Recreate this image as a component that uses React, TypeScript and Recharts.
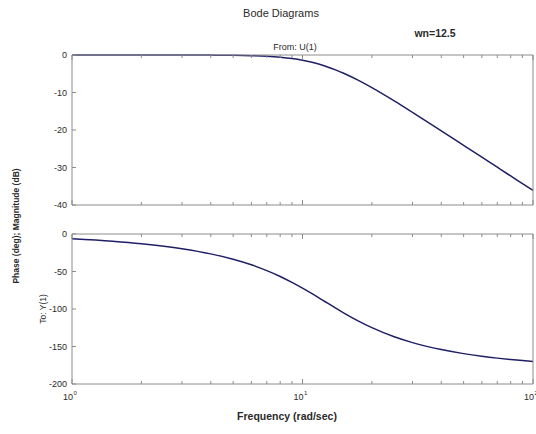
import React from 'react';
import { LineChart, Line, XAxis, YAxis } from 'recharts';

// ---- data (2nd-order system, wn = 12.5) ----
const freqs = [1, 1.5, 2, 3, 4, 5, 6, 7, 8, 9, 10, 11, 12.5, 14, 15, 17.5, 20, 25, 30, 40, 50, 60, 70, 80, 90, 100];
const magnitudeDb = [0, 0, 0, 0, -0.03, -0.08, -0.19, -0.36, -0.61, -0.96, -1.41, -1.96, -2.92, -4.02, -4.79, -6.78, -8.72, -12.26, -15.31, -20.23, -24.09, -27.25, -29.93, -32.25, -34.29, -36.12];
const phaseDeg = [-6.4, -9.7, -13.0, -19.6, -26.5, -33.7, -41.1, -48.8, -56.6, -64.5, -72.2, -79.6, -90, -99.2, -104.7, -116.1, -124.9, -137.0, -144.8, -154.1, -159.5, -163.0, -165.5, -167.4, -168.8, -169.9];

const xTicks = [1, 2, 3, 4, 5, 6, 7, 8, 9, 10, 20, 30, 40, 50, 60, 70, 80, 90, 100];
const xMajor = [1, 10, 100];
const xMajorExp = ['0', '1', '2'];
const magTicks = [0, -10, -20, -30, -40];
const phaseTicks = [0, -50, -100, -150, -200];

const magData = freqs.map((f, i) => ({ f, v: magnitudeDb[i] }));
const phaseData = freqs.map((f, i) => ({ f, v: phaseDeg[i] }));

const AXIS = '#8c8c8c';
const LINE = '#1f1f66';
const TXT = '#2a2a2a';
const FONT = '"Liberation Sans", Arial, sans-serif';

const W = 536;
const H = 434;

function makeXTick(dir: number, labels: boolean) {
  return (props: any) => {
    const { x, y, payload } = props;
    const v = payload.value;
    const mi = xMajor.indexOf(v);
    const len = mi >= 0 ? 5 : 3;
    return (
      <g>
        <line x1={x} x2={x} y1={y} y2={y + dir * len} stroke={AXIS} strokeWidth={1} />
        {labels && mi >= 0 && (
          <text x={x - 2} y={y + 16} textAnchor="middle" fontSize={9} fontFamily={FONT} fill={TXT}>
            10
            <tspan dx={0.5} dy={-5} fontSize={6}>{xMajorExp[mi]}</tspan>
          </text>
        )}
      </g>
    );
  };
}

function makeYTick(dir: number, labels: boolean) {
  return (props: any) => {
    const { x, y, payload } = props;
    return (
      <g>
        <line x1={x} x2={x + dir * 4} y1={y} y2={y} stroke={AXIS} strokeWidth={1} />
        {labels && (
          <text x={x - 5} y={y + 3} textAnchor="end" fontSize={9} fontFamily={FONT} fill={TXT}>
            {payload.value}
          </text>
        )}
      </g>
    );
  };
}

function Panel(props: { data: any[]; domain: [number, number]; ticks: number[]; top: number; bottom: number; xLabels: boolean }) {
  const { data, domain, ticks, top, bottom, xLabels } = props;
  return (
    <div style={{ position: 'absolute', left: 0, top: 0 }}>
      <LineChart width={W} height={H} data={data} margin={{ top: top - 1, bottom: H - bottom - 1, left: 71, right: W - 533 - 1 }}>
        <XAxis
          xAxisId="b"
          dataKey="f"
          type="number"
          scale="log"
          domain={[1, 100]}
          ticks={xTicks}
          interval={0}
          height={1}
          tickSize={0}
          tickMargin={0}
          tickLine={false}
          axisLine={{ stroke: AXIS }}
          tick={makeXTick(-1, xLabels)}
        />
        <XAxis
          xAxisId="t"
          orientation="top"
          dataKey="f"
          type="number"
          scale="log"
          domain={[1, 100]}
          ticks={xTicks}
          interval={0}
          height={1}
          tickSize={0}
          tickMargin={0}
          tickLine={false}
          axisLine={{ stroke: AXIS }}
          tick={makeXTick(1, false)}
        />
        <YAxis
          yAxisId="l"
          type="number"
          domain={domain}
          ticks={ticks}
          interval={0}
          width={1}
          tickSize={0}
          tickMargin={0}
          tickLine={false}
          axisLine={{ stroke: AXIS }}
          tick={makeYTick(1, true)}
        />
        <YAxis
          yAxisId="r"
          orientation="right"
          type="number"
          domain={domain}
          ticks={ticks}
          interval={0}
          width={1}
          tickSize={0}
          tickMargin={0}
          tickLine={false}
          axisLine={{ stroke: AXIS }}
          tick={makeYTick(-1, false)}
        />
        <Line
          xAxisId="b"
          yAxisId="l"
          dataKey="v"
          type="monotone"
          stroke={LINE}
          strokeWidth={1.5}
          dot={false}
          isAnimationActive={false}
        />
      </LineChart>
    </div>
  );
}

export default function App() {
  return (
    <div style={{ position: 'absolute', left: 0, top: 0, width: W, height: H, background: '#fff', overflow: 'hidden' }}>
      <Panel data={magData} domain={[-40, 0]} ticks={magTicks} top={55} bottom={205} xLabels={false} />
      <Panel data={phaseData} domain={[-200, 0]} ticks={phaseTicks} top={234} bottom={384} xLabels={true} />
      <svg width={W} height={H} style={{ position: 'absolute', left: 0, top: 0, pointerEvents: 'none' }}>
        <text x={281} y={17} textAnchor="middle" fontSize={11} fontFamily={FONT} fill={TXT}>Bode Diagrams</text>
        <text x={435} y={37} textAnchor="middle" fontSize={10.5} fontWeight="bold" fontFamily={FONT} fill={TXT}>wn=12.5</text>
        <text x={295} y={50} textAnchor="middle" fontSize={9} fontFamily={FONT} fill={TXT}>From: U(1)</text>
        <text x={287} y={420} textAnchor="middle" fontSize={10.5} fontWeight="bold" fontFamily={FONT} fill={TXT}>Frequency (rad/sec)</text>
        <text x={0} y={0} transform="translate(19,226) rotate(-90)" textAnchor="middle" fontSize={8.5} fontWeight="bold" fontFamily={FONT} fill={TXT}>Phase (deg); Magnitude (dB)</text>
        <text x={0} y={0} transform="translate(46,309) rotate(-90)" textAnchor="middle" fontSize={8.5} fontFamily={FONT} fill={TXT}>To: Y(1)</text>
      </svg>
    </div>
  );
}
